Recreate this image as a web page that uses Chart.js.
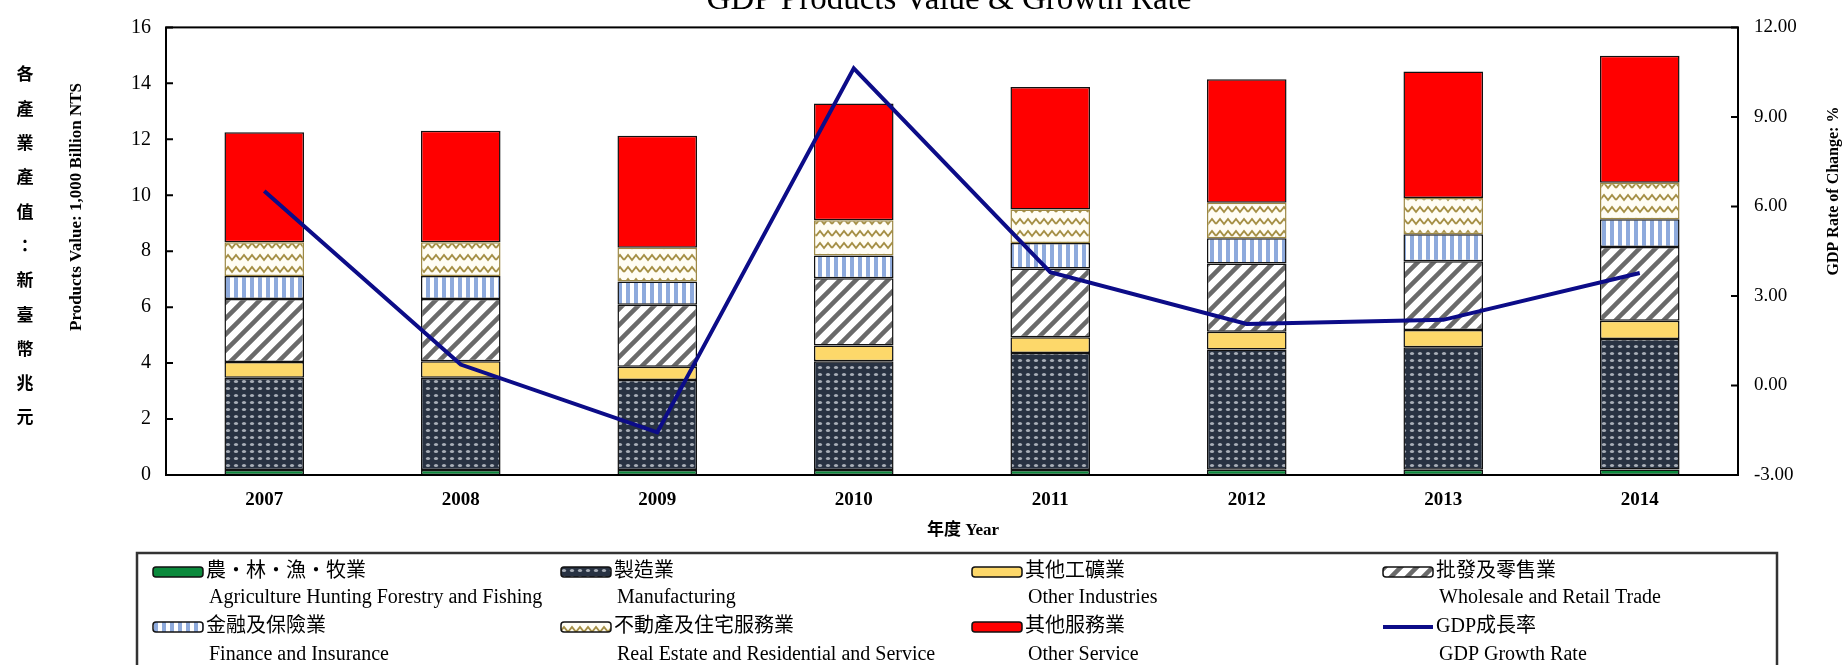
<!DOCTYPE html>
<html>
<head>
<meta charset="utf-8">
<script src="https://cdn.jsdelivr.net/npm/chart.js@4.4.1/dist/chart.umd.min.js"></script>
<style>
body { margin: 0; background: #fff; }
#wrap { width: 1845px; height: 665px; }
</style>
</head>
<body>
<div id="wrap"><canvas id="gdpChart" width="1845" height="665"></canvas></div>
<script>
// data (1,000 billion NT$ and %)
var years = ['2007', '2008', '2009', '2010', '2011', '2012', '2013', '2014'];
var agri = [0.18, 0.18, 0.18, 0.18, 0.18, 0.19, 0.19, 0.20];
var manu = [3.30, 3.30, 3.22, 3.89, 4.18, 4.30, 4.38, 4.66];
var otherInd = [0.56, 0.59, 0.47, 0.56, 0.56, 0.63, 0.61, 0.65];
var wholesale = [2.25, 2.22, 2.22, 2.40, 2.46, 2.44, 2.46, 2.64];
var finance = [0.82, 0.82, 0.83, 0.82, 0.91, 0.90, 0.97, 0.99];
var realEstate = [1.21, 1.21, 1.20, 1.26, 1.20, 1.27, 1.29, 1.31];
var otherSvc = [3.93, 3.99, 4.01, 4.17, 4.38, 4.42, 4.52, 4.54];
var gdpGrowth = [6.52, 0.70, -1.57, 10.63, 3.80, 2.06, 2.20, 3.77];

var zhLabels = ['農・林・漁・牧業', '製造業', '其他工礦業', '批發及零售業',
    '金融及保險業', '不動產及住宅服務業', '其他服務業', 'GDP成長率'];
var enLabels = ['Agriculture Hunting Forestry and Fishing', 'Manufacturing', 'Other Industries',
    'Wholesale and Retail Trade', 'Finance and Insurance', 'Real Estate and Residential and Service',
    'Other Service', 'GDP Growth Rate'];

var titleText = 'GDP Products Value & Growth Rate';
var leftTitleZh = '各產業產值：新臺幣兆元';
var leftTitleEn = 'Products Value: 1,000 Billion NTS';
var rightTitle = 'GDP Rate of Change: %';
var xTitle = '年度 Year';

var serif = "'Liberation Serif', 'Times New Roman', 'Noto Sans CJK TC', serif";

// fill patterns
function makePattern(w, h, draw) {
    var c = document.createElement('canvas');
    c.width = w;
    c.height = h;
    draw(c.getContext('2d'), w, h);
    return c.getContext('2d').createPattern(c, 'repeat');
}

var manuFill = makePattern(8, 7, function (g, w, h) {
    g.fillStyle = '#283242';
    g.fillRect(0, 0, w, h);
    g.fillStyle = '#a9afb8';
    g.beginPath();
    g.ellipse(4, 3.5, 2.1, 1.5, 0, 0, Math.PI * 2);
    g.fill();
});
var wholesaleFill = makePattern(16, 16, function (g, w, h) {
    g.fillStyle = '#fff';
    g.fillRect(0, 0, w, h);
    g.strokeStyle = '#6a6a6a';
    g.lineWidth = 4.5;
    g.beginPath();
    g.moveTo(-2, h + 2); g.lineTo(w + 2, -2);
    g.moveTo(-3, 3); g.lineTo(3, -3);
    g.moveTo(w - 3, h + 3); g.lineTo(w + 3, h - 3);
    g.stroke();
});
var financeFill = makePattern(8, 8, function (g, w, h) {
    g.fillStyle = '#fff';
    g.fillRect(0, 0, w, h);
    g.fillStyle = '#8eaadc';
    g.fillRect(2, 0, 4, h);
});
var realEstateFill = makePattern(16, 12, function (g, w, h) {
    g.fillStyle = '#fffdf4';
    g.fillRect(0, 0, w, h);
    g.strokeStyle = '#a58f45';
    g.lineWidth = 2;
    g.beginPath();
    g.moveTo(0, 8); g.lineTo(4, 3); g.lineTo(8, 8); g.lineTo(12, 3); g.lineTo(16, 8);
    g.stroke();
});

var fills = ['#0b8a3c', manuFill, '#fdd86a', wholesaleFill, financeFill, realEstateFill, '#ff0000'];
var series = [agri, manu, otherInd, wholesale, finance, realEstate, otherSvc];
var lineColor = '#0c0c88';

var barSets = series.map(function (vals, i) {
    return {
        type: 'bar',
        label: enLabels[i],
        data: vals,
        backgroundColor: fills[i],
        borderColor: i === 5 ? '#9c8845' : '#111',
        borderWidth: 1.5,
        borderSkipped: false,
        yAxisID: 'y',
        stack: 'gdp',
        order: 1,
        barPercentage: 0.405,
        categoryPercentage: 1
    };
});

// frame, inward ticks, titles and legend
var decorPlugin = {
    id: 'decor',
    afterDraw: function (chart) {
        var ctx = chart.ctx;
        var a = chart.chartArea;
        ctx.save();
        ctx.strokeStyle = '#000';
        ctx.lineWidth = 2;
        ctx.strokeRect(a.left, a.top, a.right - a.left, a.bottom - a.top);

        var ys = chart.scales.y, yr = chart.scales.y1;
        ctx.beginPath();
        ys.ticks.forEach(function (t) {
            var py = ys.getPixelForValue(t.value);
            ctx.moveTo(a.left, py); ctx.lineTo(a.left + 7, py);
        });
        yr.ticks.forEach(function (t) {
            var py = yr.getPixelForValue(t.value);
            ctx.moveTo(a.right - 7, py); ctx.lineTo(a.right, py);
        });
        ctx.stroke();

        ctx.fillStyle = '#000';
        // title, mostly cut off at the top
        ctx.font = '33px ' + serif;
        ctx.textAlign = 'center';
        ctx.textBaseline = 'alphabetic';
        ctx.fillText(titleText, (a.left + a.right) / 2 - 3, 9, 552);

        // left vertical Chinese title
        ctx.font = "bold 17px 'Noto Sans CJK TC', sans-serif";
        ctx.textBaseline = 'middle';
        Array.from(leftTitleZh).forEach(function (ch, i) {
            ctx.fillText(ch, 25, 74 + i * 34.3);
        });

        // rotated English axis titles
        ctx.font = 'bold 17px ' + serif;
        ctx.save();
        ctx.translate(77, 207);
        ctx.rotate(-Math.PI / 2);
        ctx.fillText(leftTitleEn, 0, 0, 260);
        ctx.restore();
        ctx.save();
        ctx.font = 'bold 16px ' + serif;
        ctx.translate(1834, 191);
        ctx.rotate(-Math.PI / 2);
        ctx.fillText(rightTitle, 0, 0, 188);
        ctx.restore();

        // x axis title
        ctx.font = 'bold 17px ' + serif;
        ctx.fillText(xTitle, 963, 531);

        // legend box
        ctx.strokeStyle = '#333';
        ctx.lineWidth = 2.5;
        ctx.strokeRect(137, 553, 1640, 200);

        var cols = [153, 561, 972, 1383];
        var rowZh = [572, 627];
        var rowEn = [598, 655];
        ctx.textAlign = 'left';
        for (var i = 0; i < 8; i++) {
            var x = cols[i % 4];
            var r = Math.floor(i / 4);
            var y = rowZh[r];
            if (i === 7) {
                ctx.strokeStyle = lineColor;
                ctx.lineWidth = 4;
                ctx.beginPath();
                ctx.moveTo(x, y); ctx.lineTo(x + 50, y);
                ctx.stroke();
            } else {
                ctx.fillStyle = fills[i];
                ctx.strokeStyle = '#111';
                ctx.lineWidth = 1.5;
                ctx.beginPath();
                ctx.roundRect(x, y - 5, 50, 10, 3);
                ctx.fill();
                ctx.stroke();
            }
            ctx.fillStyle = '#000';
            ctx.font = '20px ' + serif;
            ctx.fillText(zhLabels[i], x + 53, y);
            ctx.fillText(enLabels[i], x + 56, rowEn[r]);
        }
        ctx.restore();
    }
};

var ctx = document.getElementById('gdpChart');
var gdpChart = new Chart(ctx, {
    data: {
        labels: years,
        datasets: [{
            type: 'line',
            label: enLabels[7],
            data: gdpGrowth,
            yAxisID: 'y1',
            borderColor: lineColor,
            borderWidth: 4,
            pointRadius: 0,
            tension: 0,
            order: 0
        }].concat(barSets)
    },
    options: {
        responsive: false,
        animation: false,
        layout: { padding: { top: 21, left: 0, right: 0, bottom: 0 } },
        plugins: {
            legend: { display: false },
            tooltip: { enabled: false }
        },
        scales: {
            x: {
                stacked: true,
                grid: { display: false, drawTicks: false },
                border: { display: false },
                ticks: { color: '#000', padding: 14, font: { family: serif, size: 19, weight: 'bold' } },
                afterFit: function (s) { s.height = 190; }
            },
            y: {
                stacked: true,
                position: 'left',
                min: 0,
                max: 16,
                grid: { display: false, drawTicks: false },
                border: { display: false },
                ticks: { stepSize: 2, color: '#000', padding: 15, font: { family: serif, size: 20 } },
                afterFit: function (s) { s.width = 166; }
            },
            y1: {
                position: 'right',
                min: -3,
                max: 12,
                grid: { display: false, drawTicks: false },
                border: { display: false },
                ticks: {
                    stepSize: 3, color: '#000', padding: 16, font: { family: serif, size: 19 },
                    callback: function (v) { return v.toFixed(2); }
                },
                afterFit: function (s) { s.width = 107; }
            }
        }
    },
    plugins: [decorPlugin]
});
</script>
</body>
</html>
